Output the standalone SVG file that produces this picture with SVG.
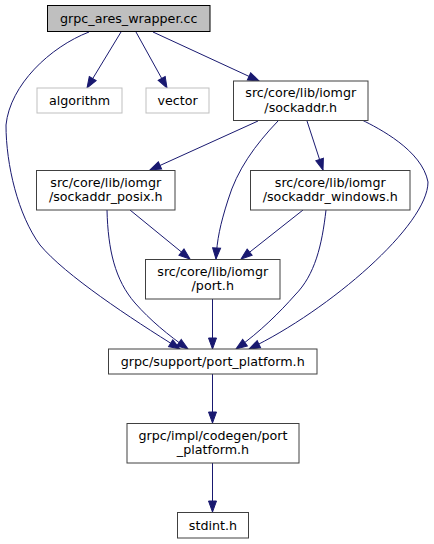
<svg xmlns="http://www.w3.org/2000/svg" width="434" height="544" viewBox="0 0 434 544">
<style>
text{font-family:"DejaVu Sans","Liberation Sans",sans-serif;font-size:12.7px;fill:#000;text-anchor:middle}
.n{fill:#fff;stroke:#404040;stroke-width:1}
.root{fill:#bfbfbf;stroke:#000;stroke-width:1}
.ext{fill:#fff;stroke:#bfbfbf;stroke-width:1}
.e{fill:none;stroke:#191970;stroke-width:1;marker-end:url(#ah)}
</style>
<defs>
<marker id="ah" markerUnits="userSpaceOnUse" markerWidth="14" markerHeight="10" refX="12" refY="5" orient="auto">
<path d="M1,1 L12,5 L1,9 z" fill="#191970" stroke="#191970"/>
</marker>
</defs>
<rect width="434" height="544" fill="#fff"/>
<g id="edges">
<path class="e" d="M121,32 L87,88"/>
<path class="e" d="M136,32 L167,88"/>
<path class="e" d="M153,32 L259,81"/>
<path class="e" d="M89,32 C50,47 10,85 6,125 C6,165 18,215 40,245 C65,275 130,318 180,349"/>
<path class="e" d="M258,121 L150,170"/>
<path class="e" d="M278,121 C255,145 237,170 228,200 C220,225 217,240 216,259"/>
<path class="e" d="M307,121 L323,170"/>
<path class="e" d="M362,120 C378,128 422,150 428,182 C428,225 330,310 249,349"/>
<path class="e" d="M130,210 L190,259"/>
<path class="e" d="M303,210 L241,259"/>
<path class="e" d="M107,210 C108,250 115,280 135,303 C150,320 168,335 188,349"/>
<path class="e" d="M326,210 C322,245 315,275 295,295 C280,312 260,332 236,349"/>
<path class="e" d="M212.5,299 L212.5,349"/>
<path class="e" d="M212.5,374 L212.5,423"/>
<path class="e" d="M212.5,463 L212.5,512"/>
</g>
<g id="node_root">
<rect class="root" x="47.5" y="5.5" width="162.5" height="26"/>
<text x="128.75" y="22.5">grpc_ares_wrapper.cc</text>
</g>
<g id="node_algorithm">
<rect class="ext" x="37" y="88" width="85" height="25"/>
<text x="79.5" y="104.5">algorithm</text>
</g>
<g id="node_vector">
<rect class="ext" x="146" y="88" width="63" height="25"/>
<text x="177.5" y="104.5">vector</text>
</g>
<g id="node_sockaddr">
<rect class="n" x="233.5" y="81" width="134.5" height="39.5"/>
<text x="300.75" y="97">src/core/lib/iomgr</text>
<text x="300.75" y="111.5">/sockaddr.h</text>
</g>
<g id="node_sockaddr_posix">
<rect class="n" x="36.5" y="170.5" width="138.5" height="39.5"/>
<text x="105.75" y="186.5">src/core/lib/iomgr</text>
<text x="105.75" y="201">/sockaddr_posix.h</text>
</g>
<g id="node_sockaddr_windows">
<rect class="n" x="250.5" y="170.5" width="159.5" height="39.5"/>
<text x="330.25" y="186.5">src/core/lib/iomgr</text>
<text x="330.25" y="201">/sockaddr_windows.h</text>
</g>
<g id="node_port">
<rect class="n" x="145.5" y="259.5" width="134.5" height="39.5"/>
<text x="212.75" y="275.5">src/core/lib/iomgr</text>
<text x="212.75" y="290">/port.h</text>
</g>
<g id="node_port_platform">
<rect class="n" x="108.5" y="349" width="208.5" height="25"/>
<text x="212.75" y="365.5">grpc/support/port_platform.h</text>
</g>
<g id="node_codegen">
<rect class="n" x="127" y="423.5" width="172" height="39.5"/>
<text x="213" y="439.5">grpc/impl/codegen/port</text>
<text x="213" y="454">_platform.h</text>
</g>
<g id="node_stdint">
<rect class="n" x="177.5" y="512.5" width="71" height="25.5"/>
<text x="213" y="529.5">stdint.h</text>
</g>
</svg>
